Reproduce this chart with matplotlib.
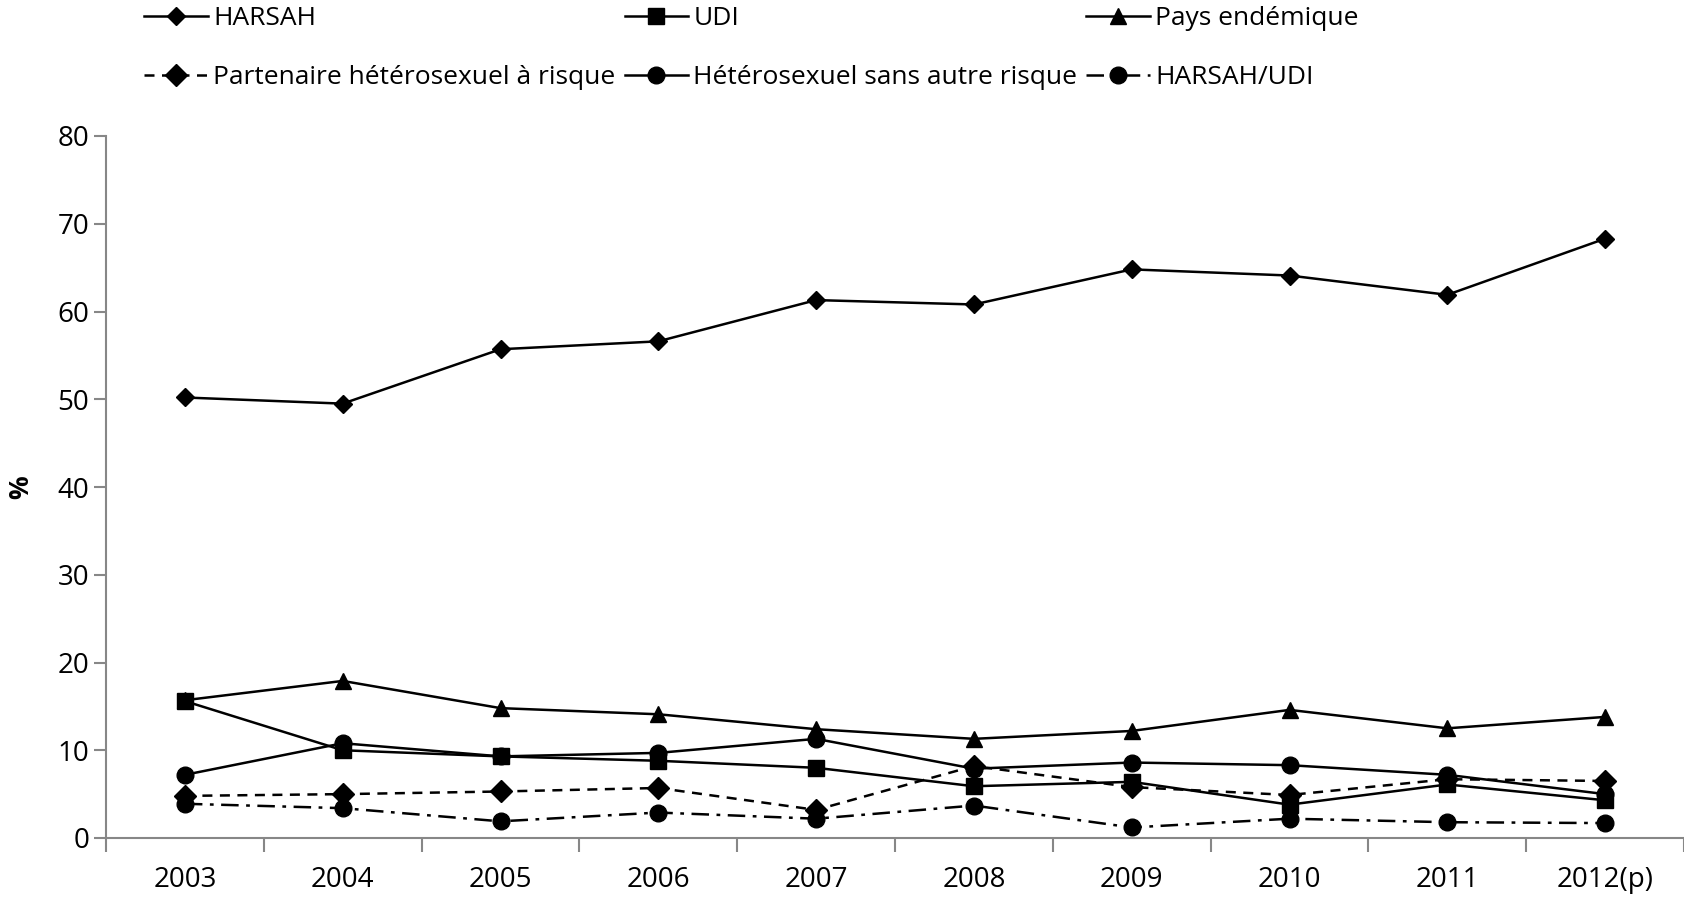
import matplotlib.pyplot as plt

plt.rcParams['font.family'] = ['Open Sans', 'DejaVu Sans']

years = ['2003', '2004', '2005', '2006', '2007', '2008', '2009', '2010', '2011', '2012(p)']

harsah = [50.2, 49.5, 55.7, 56.6, 61.3, 60.8, 64.8, 64.1, 61.9, 68.3]
udi = [15.6, 10.0, 9.3, 8.8, 8.0, 5.9, 6.4, 3.8, 6.1, 4.3]
pays_endemique = [15.7, 17.9, 14.8, 14.1, 12.4, 11.3, 12.2, 14.6, 12.5, 13.8]
partenaire = [4.8, 5.0, 5.3, 5.7, 3.2, 8.2, 5.8, 4.9, 6.7, 6.5]
hetero = [7.2, 10.8, 9.3, 9.7, 11.3, 7.9, 8.6, 8.3, 7.2, 5.0]
harsah_udi = [3.9, 3.4, 1.9, 2.9, 2.2, 3.7, 1.2, 2.2, 1.8, 1.7]

fig = plt.figure(figsize=(16.84, 8.98), dpi=100)
ax = fig.add_axes([106/1684, 1-838/898, 1-106/1684, (838-136)/898])

x = list(range(len(years)))
lw = 1.8
# added in column-major order so the legend rows read like the original
l1, = ax.plot(x, harsah, 'k-', marker='D', ms=9, lw=lw, label='HARSAH')
l4, = ax.plot(x, partenaire, 'k', ls=(0, (4, 3)), marker='D', ms=11, lw=lw, label='Partenaire hétérosexuel à risque')
l2, = ax.plot(x, udi, 'k-', marker='s', ms=11, lw=lw, label='UDI')
l5, = ax.plot(x, hetero, 'k-', marker='o', ms=12, lw=lw, label='Hétérosexuel sans autre risque')
l3, = ax.plot(x, pays_endemique, 'k-', marker='^', ms=12, lw=lw, label='Pays endémique')
l6, = ax.plot(x, harsah_udi, 'k', ls=(0, (7, 3, 1.5, 3)), marker='o', ms=12, lw=lw, label='HARSAH/UDI')

ax.set_xlim(-0.5, len(years) - 0.5)
ax.set_ylim(0, 80)
ax.set_yticks(range(0, 81, 10))
ax.set_xticks(x)
ax.set_xticklabels(years)
ax.set_xticks([i - 0.5 for i in range(len(years) + 1)], minor=True)
ax.tick_params(axis='x', which='major', length=0, labelsize=20, pad=20)
ax.tick_params(axis='x', which='minor', length=10, color='#878787', width=1.5)
ax.tick_params(axis='y', length=9, color='#878787', width=1.5, labelsize=20, pad=3)

for s in ['top', 'right']:
    ax.spines[s].set_visible(False)
for s in ['left', 'bottom']:
    ax.spines[s].set_color('#878787')
    ax.spines[s].set_linewidth(1.5)

ax.set_ylabel('%', fontsize=19, fontweight='bold')
ax.yaxis.set_label_coords((34-106)/(1684-106), 0.5)

fig.legend(handles=[l1, l4, l2, l5, l3, l6], ncol=3, loc='upper left',
           bbox_to_anchor=(126/1684, 1.014), frameon=False, fontsize=19,
           handlelength=2.4, handletextpad=0.2, columnspacing=0.35,
           labelspacing=1.3, borderpad=0.2)

plt.savefig('out.png', dpi=100)
